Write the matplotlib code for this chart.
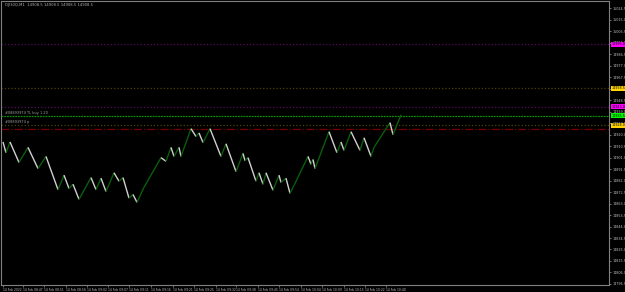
import matplotlib
matplotlib.use("Agg")
import matplotlib.pyplot as plt
import numpy as np

# renko turning points (bar position, price)
pivot_bar = [2, 5, 9, 18, 27, 37, 45, 57, 63, 68, 72, 78, 90, 95, 100, 105, 113, 118,
             122, 128, 132, 136, 143, 160, 165, 170, 173, 178, 180, 190, 195, 198, 202,
             209, 220, 225, 235, 242, 244, 247, 255, 258, 262, 265, 272, 278, 280, 285,
             289, 293, 307, 310, 312, 314, 328, 336, 340, 343, 350, 359, 363, 370, 373,
             385, 389, 392, 400]
pivot_price = [14914.0, 14905.0, 14914.0, 14897.0, 14909.5, 14892.0, 14902.0, 14874.5,
               14886.5, 14875.5, 14879.0, 14866.5, 14884.5, 14874.5, 14884.0, 14873.0,
               14888.5, 14881.5, 14884.5, 14867.5, 14870.5, 14864.0, 14876.5, 14901.0,
               14898.0, 14909.5, 14902.0, 14909.5, 14902.0, 14925.0, 14918.5, 14921.5,
               14913.5, 14925.0, 14902.0, 14912.5, 14889.5, 14904.5, 14898.5, 14901.0,
               14881.5, 14888.5, 14879.0, 14888.5, 14874.0, 14886.5, 14880.5, 14884.0,
               14871.5, 14878.0, 14902.0, 14895.5, 14899.5, 14892.0, 14922.5, 14905.0,
               14914.0, 14907.0, 14922.5, 14907.0, 14917.5, 14902.0, 14909.5, 14925.0,
               14930.0, 14920.0, 14936.5]

# horizontal order/level lines
level_price = [14995.0, 14958.5, 14943.0, 14935.5, 14928.0, 14925.0]
level_color = ["#5a0a5a", "#4f4200", "#5a0a5a", "#009000", "#4f4200", "#7a0000"]
level_style = [":", ":", ":", (0, (1.5, 0.7)), ":", "-."]
level_box = ["#ff00ff", "#ffd400", "#ff00ff", "#00ff00", "#ffd400", None]
level_text = ["#08893974 TL buy 1.20", "#08893974 p"]
level_text_price = [14935.5, 14928.0]

ytick_top = 15024.5
ytick_step = 9.5
ytick_count = 25

xtick_bar = [2, 22, 43, 65, 86, 107, 128, 150, 172, 193, 215, 235, 257, 278, 300, 321,
             343, 364, 385]
xtick_labels = ["14 Feb 2022", "14 Feb 08:47", "14 Feb 08:51", "14 Feb 08:56",
                "14 Feb 09:02", "14 Feb 09:07", "14 Feb 09:11", "14 Feb 09:16",
                "14 Feb 09:21", "14 Feb 09:25", "14 Feb 09:32", "14 Feb 09:38",
                "14 Feb 09:45", "14 Feb 09:54", "14 Feb 10:04", "14 Feb 10:09",
                "14 Feb 10:15", "14 Feb 10:22", "14 Feb 10:40"]

title = "DJI30Q,M1  14908.5 14908.5 14908.5 14908.5"

fig = plt.figure(figsize=(6.25, 2.92), dpi=100, facecolor="black")
ax = fig.add_axes([1 / 625, 7 / 292, 608 / 625, 284.5 / 292], facecolor="black")

ax.set_xlim(0, 608)
ax.set_ylim(14795.6, 15031.1)

for i, (p, c, ls) in enumerate(zip(level_price, level_color, level_style)):
    ax.axhline(p, color=c, ls=ls, lw=0.9, zorder=1)

for i in range(len(pivot_bar) - 1):
    up = pivot_price[i + 1] > pivot_price[i]
    ax.plot(pivot_bar[i:i + 2], pivot_price[i:i + 2],
            color="#0a5e0a" if up else "#d0d0d0", lw=1.0, solid_capstyle="butt", zorder=3)

for t, p in zip(level_text, level_text_price):
    ax.text(4, p + 1.0, t, color="#a0a0a0", fontsize=2.5, va="bottom", ha="left")

ax.text(4, 15027.5, title, color="#b0b0b0", fontsize=2.7, va="center", ha="left")

# price axis
yt = [ytick_top - k * ytick_step for k in range(ytick_count)]
ax.yaxis.tick_right()
ax.set_yticks(yt)
ax.set_yticklabels([f"{v:.1f}" for v in yt], fontsize=2.4, color="#c0c0c0")
ax.tick_params(axis="y", length=1.5, width=0.5, color="#a0a0a0", pad=0.8)

for p, b in zip(level_price, level_box):
    if b is None:
        continue
    ax.text(1.004, p, f"{p:.1f}", transform=ax.get_yaxis_transform(), fontsize=2.4,
            color="black", va="center", ha="left",
            bbox=dict(boxstyle="square,pad=0.15", fc=b, ec="none"))

ax.set_xticks(xtick_bar)
ax.set_xticklabels(xtick_labels, fontsize=2.2, color="#c0c0c0", ha="left")
ax.tick_params(axis="x", length=1.5, width=0.5, color="#a0a0a0", pad=0.5)

for s in ax.spines.values():
    s.set_color("#808080")
    s.set_linewidth(0.8)

fig.savefig("out.png", dpi=100, facecolor="black")
